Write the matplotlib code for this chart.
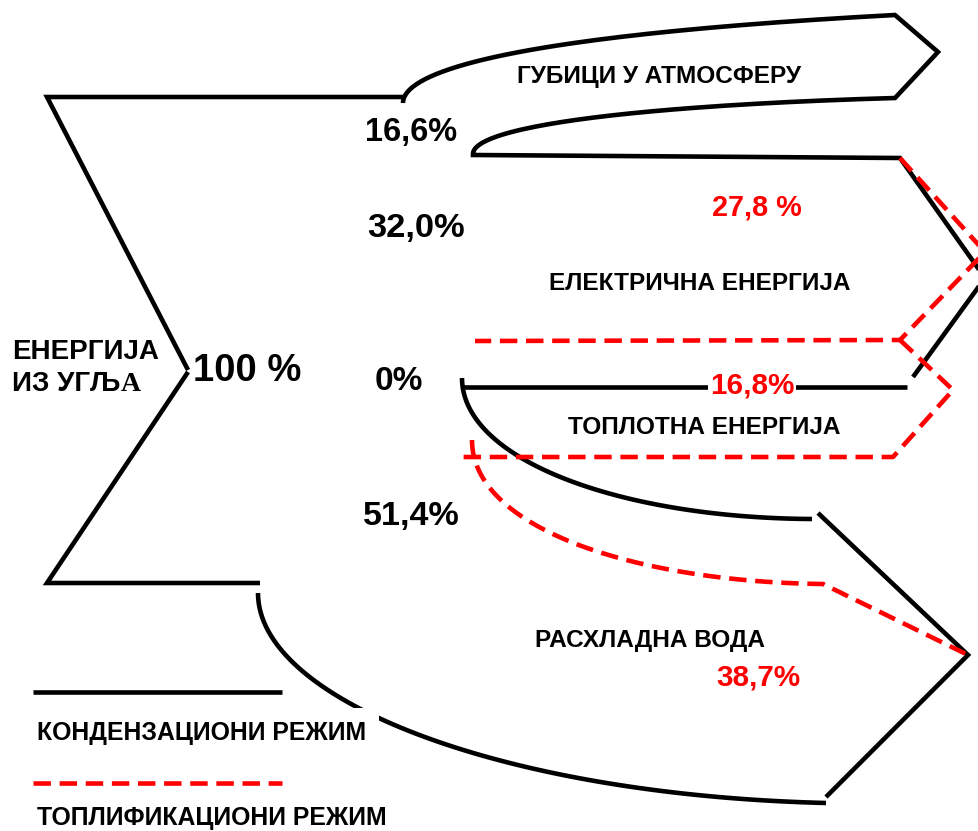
import matplotlib.pyplot as plt
import numpy as np

# energy shares, %  (condensing mode / cogeneration mode)
input_share = 100
cond_losses = 16.6
cond_electric = 32.0
cond_heat = 0
cond_cooling = 51.4
cogen_electric = 27.8
cogen_heat = 16.8
cogen_cooling = 38.7

flow_names = ["ГУБИЦИ У АТМОСФЕРУ", "ЕЛЕКТРИЧНА ЕНЕРГИЈА",
              "ТОПЛОТНА ЕНЕРГИЈА", "РАСХЛАДНА ВОДА"]
legend_names = ["КОНДЕНЗАЦИОНИ РЕЖИМ", "ТОПЛИФИКАЦИОНИ РЕЖИМ"]


def pct(v, space=False):
    s = f"{v:.1f}".replace(".", ",") if v else "0"
    return s + (" %" if space else "%")


def bez(p0, p1, p2, p3, n=80):
    t = np.linspace(0, 1, n)[:, None]
    p0, p1, p2, p3 = (np.array(p, float) for p in (p0, p1, p2, p3))
    return (1 - t)**3 * p0 + 3 * (1 - t)**2 * t * p1 + 3 * (1 - t) * t**2 * p2 + t**3 * p3


plt.rcParams['font.family'] = ['Liberation Sans', 'DejaVu Sans']
plt.rcParams['font.weight'] = 'bold'

fig = plt.figure(figsize=(9.79, 8.31), dpi=100)
ax = fig.add_axes([0, 0, 1, 1])
ax.set_xlim(0, 979)
ax.set_ylim(831, 0)
ax.axis('off')

K = dict(color='black', lw=3.3, solid_capstyle='butt', solid_joinstyle='miter')
R = dict(color='red', lw=3.3, ls=(0, (3.8, 1.9)), dash_capstyle='butt')


def line(pts, **kw):
    pts = np.asarray(pts, float)
    ax.plot(pts[:, 0], pts[:, 1], **kw)


# ---- condensing mode (solid black) ----
# input
line([(403, 97), (47, 97), (188, 370)], **K)
line([(188, 372), (47, 583), (260, 583)], **K)
# losses to atmosphere
line(np.vstack([bez((403, 103), (403, 70), (520, 35), (895, 15)),
                [(938, 52), (895, 98)],
                bez((895, 98), (650, 105), (473, 125), (473, 154)),
                [(473, 155), (900, 158), (985, 278)]]), **K)
line([(985, 278), (913, 377)], **K)
line([(463, 387), (907, 387)], **K)
# cooling water
line(bez((462, 378), (462, 460), (620, 518), (812, 519)), **K)
line([(818, 513), (968, 655), (826, 797)], **K)
line(bez((258, 593), (258, 700), (500, 795), (826, 803)), **K)

# ---- cogeneration mode (red dashed) ----
line([(900, 158), (985, 252), (900, 340), (475, 341)], **R)
line([(900, 340), (953, 390), (893, 457), (463, 457)], **R)
line(np.vstack([bez((472, 440), (472, 530), (640, 582), (823, 584)),
                [(968, 655)]]), **R)

# legend
line([(33, 692), (282, 692)], **K)
line([(33, 783), (282, 783)], **R)
ax.text(37, 733, legend_names[0], fontsize=17.8, va='center', ha='left',
        bbox=dict(fc='white', ec='none', pad=9), zorder=5)
ax.text(37, 818, legend_names[1], fontsize=17.8, va='center', ha='left')

# ---- labels ----
ax.text(12, 352, "ЕНЕРГИЈА", fontsize=20, va='center', ha='left')
t = ax.text(12, 384, "ИЗ УГЉ", fontsize=20, va='center', ha='left')
ax.annotate("А", xy=(1, 0), xycoords=t, va='bottom', ha='left', fontsize=20,
            family='Liberation Serif')

ax.text(659, 76, flow_names[0], fontsize=17.6, va='center', ha='center')
ax.text(700, 284, flow_names[1], fontsize=17.6, va='center', ha='center')
ax.text(704, 428, flow_names[2], fontsize=17.6, va='center', ha='center')
ax.text(650, 640, flow_names[3], fontsize=17.6, va='center', ha='center')

ax.text(193, 371, f"{input_share} %", fontsize=27.5, va='center', ha='left')
ax.text(365, 133, pct(cond_losses), fontsize=23.5, va='center', ha='left')
ax.text(367, 228, pct(cond_electric), fontsize=24.8, va='center', ha='left')
ax.text(375, 381, pct(cond_heat), fontsize=24, va='center', ha='left')
ax.text(363, 516, pct(cond_cooling), fontsize=24.6, va='center', ha='left')

ax.text(757, 207, pct(cogen_electric, space=True), fontsize=20.8, color='red',
        va='center', ha='center')
ax.text(752, 385, pct(cogen_heat), fontsize=21.3, color='red', va='center',
        ha='center', bbox=dict(fc='white', ec='none', pad=1.5), zorder=5)
ax.text(758, 678, pct(cogen_cooling), fontsize=21.3, color='red', va='center',
        ha='center')

fig.savefig("out.png", dpi=100)
